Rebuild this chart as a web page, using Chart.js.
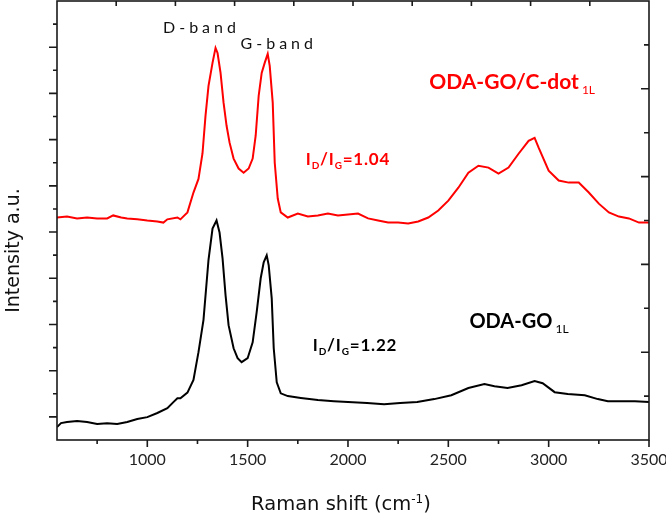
<!DOCTYPE html>
<html>
<head>
<meta charset="utf-8">
<script src="https://cdn.jsdelivr.net/npm/chart.js@4/dist/chart.umd.min.js"></script>
<style>
html, body { margin: 0; padding: 0; background: #fff; }
</style>
</head>
<body>
<canvas id="ramanChart" width="666" height="520"></canvas>
<script>
// Raman shift (cm-1) and intensity (a.u.)
const dotShift = [550, 600, 650, 700, 750, 800, 830, 870, 900, 950, 1000, 1050, 1080, 1100, 1150, 1165, 1200, 1230,
  1255, 1275, 1290, 1305, 1325, 1340, 1350, 1365, 1380, 1395, 1410, 1430, 1455, 1480, 1505, 1525, 1540, 1555, 1570,
  1585, 1600, 1610, 1625, 1635, 1650, 1665, 1700, 1750, 1800, 1850, 1900, 1950, 2000, 2050, 2100, 2150,
  2200, 2250, 2300, 2350, 2400, 2450, 2500, 2550, 2600, 2650, 2700, 2750, 2800, 2850, 2900, 2930, 2950, 3000, 3050,
  3100, 3150, 3200, 3250, 3300, 3350, 3400, 3450, 3500];
const dotIntensity = [9.63, 9.67, 9.59, 9.63, 9.59, 9.59, 9.72, 9.63, 9.59, 9.55, 9.50, 9.46, 9.41, 9.55, 9.63, 9.55,
  9.85, 10.71, 11.3, 12.4, 14.03, 15.33, 16.32, 16.97, 16.75, 15.89, 14.60, 13.60, 12.87, 12.18, 11.75, 11.57, 11.75,
  12.18, 13.17, 14.90, 15.89, 16.32, 16.71, 16.19, 14.60, 12.00, 10.45, 9.85, 9.63, 9.80, 9.67,
  9.72, 9.80, 9.72, 9.76, 9.80, 9.59, 9.50, 9.41, 9.41, 9.37, 9.46, 9.63, 9.93, 10.36, 10.92, 11.57, 11.87, 11.79,
  11.53, 11.79, 12.39, 12.95, 13.08, 12.65, 11.66, 11.23, 11.14, 11.14, 10.71, 10.23, 9.85, 9.67, 9.59, 9.41, 9.41];

const goShift = [550, 570, 600, 650, 700, 750, 800, 850, 900, 950, 1000, 1050, 1100, 1130, 1150, 1165, 1200, 1230,
  1255, 1280, 1305, 1325, 1345, 1360, 1375, 1390, 1405, 1430, 1450, 1470, 1500, 1525, 1545, 1565, 1580, 1595, 1605,
  1620, 1630, 1645, 1665, 1700, 1765, 1850, 1930, 2000, 2095, 2180, 2260, 2345, 2430, 2515, 2600,
  2680, 2730, 2795, 2865, 2930, 2970, 3030, 3095, 3180, 3245, 3295, 3430, 3500];
const goIntensity = [0.56, 0.73, 0.78, 0.82, 0.78, 0.69, 0.73, 0.69, 0.78, 0.91, 0.99, 1.17, 1.38, 1.64, 1.81, 1.81,
  2.05, 2.6, 3.8, 5.2, 7.8, 9.15, 9.50, 8.98, 7.86, 6.26, 4.97, 3.97, 3.54, 3.37, 3.54, 4.23, 5.53, 7.00, 7.69, 7.99,
  7.56, 6.13, 3.97, 2.50, 2.02, 1.90, 1.82, 1.73, 1.68, 1.64, 1.60, 1.55, 1.60, 1.64, 1.77,
  1.94, 2.25, 2.42, 2.33, 2.25, 2.37, 2.55, 2.46, 2.07, 1.99, 1.94, 1.77, 1.68, 1.68, 1.64];

// axis ticks
const shiftTicks = [1000, 1500, 2000, 2500, 3000, 3500];
const shiftMinor = [750, 1250, 1750, 2250, 2750, 3250];
const intensityMajor = [1, 3, 5, 7, 9, 11, 13, 15, 17];
const intensityMinor = [2, 4, 6, 8, 10, 12, 14, 16, 18];
const topTicks = [1, 2, 3, 4, 5, 6, 7, 8, 9];
const rightLong = [2, 4, 6, 8];
const rightShort = [1, 3, 5, 7, 9];

const RED = "#ff0000";
const FONT = "Lato";
const TITLE_FONT = "'DejaVu Sans'";

// frame and tick marks on all four sides
const frameTicks = {
    id: "frameTicks",
    afterDatasetsDraw(chart){
        const {ctx, chartArea: a, scales} = chart;
        ctx.save();
        ctx.strokeStyle = "#1a1a1a";
        ctx.lineWidth = 1.6;
        ctx.strokeRect(a.left, a.top, a.right - a.left, a.bottom - a.top);
        ctx.beginPath();
        const vTick = (px, y0, len) => { ctx.moveTo(px, y0); ctx.lineTo(px, y0 + len); };
        const hTick = (py, x0, len) => { ctx.moveTo(x0, py); ctx.lineTo(x0 + len, py); };
        shiftTicks.forEach(v => vTick(scales.x.getPixelForValue(v), a.bottom, 7));
        shiftMinor.forEach(v => vTick(scales.x.getPixelForValue(v), a.bottom, 4));
        intensityMajor.forEach(v => hTick(scales.y.getPixelForValue(v), a.left, -8));
        intensityMinor.forEach(v => hTick(scales.y.getPixelForValue(v), a.left, -4));
        topTicks.forEach(v => vTick(scales.xTop.getPixelForValue(v), a.top, 5));
        rightLong.forEach(v => hTick(scales.yRight.getPixelForValue(v), a.right, -8));
        rightShort.forEach(v => hTick(scales.yRight.getPixelForValue(v), a.right, -5));
        ctx.stroke();
        ctx.restore();
    }
};

// text runs: [text, font, baseline shift]
function drawRuns(ctx, x, y, runs, color, spacing, center){
    ctx.save();
    ctx.fillStyle = color;
    ctx.textBaseline = "alphabetic";
    ctx.letterSpacing = spacing + "px";
    let total = 0;
    runs.forEach(r => { ctx.font = r[1]; total += ctx.measureText(r[0]).width; });
    let cx = center ? x - total / 2 : x;
    runs.forEach(r => {
        ctx.font = r[1];
        ctx.fillText(r[0], cx, y + r[2]);
        cx += ctx.measureText(r[0]).width;
    });
    ctx.restore();
}

const notes = {
    id: "notes",
    afterDatasetsDraw(chart){
        const {ctx, scales: {x, y}} = chart;
        const px = v => x.getPixelForValue(v);
        const py = v => y.getPixelForValue(v);
        drawRuns(ctx, px(1270), py(17.62), [["D-band", "16px " + FONT, 0]], "#111", 4, true);
        drawRuns(ctx, px(1655), py(16.93), [["G-band", "16px " + FONT, 0]], "#111", 4, true);
        drawRuns(ctx, px(2405), py(15.2), [["ODA-GO/C-dot", "bold 21px " + FONT, 0], [" 1L", "12px " + FONT, 5]], RED, 0, false);
        drawRuns(ctx, px(1790), py(11.9), [["I", "bold 17px " + FONT, 0], ["D", "bold 10px " + FONT, 4],
            ["/", "bold 17px " + FONT, 0], ["I", "bold 17px " + FONT, 0], ["G", "bold 10px " + FONT, 4],
            ["=1.04", "bold 17px " + FONT, 0]], RED, 0.8, false);
        drawRuns(ctx, px(2605), py(4.84), [["ODA-GO", "bold 20px " + FONT, 0], [" 1L", "12px " + FONT, 5]], "#000", 0, false);
        drawRuns(ctx, px(1825), py(3.85), [["I", "bold 17px " + FONT, 0], ["D", "bold 10px " + FONT, 4],
            ["/", "bold 17px " + FONT, 0], ["I", "bold 17px " + FONT, 0], ["G", "bold 10px " + FONT, 4],
            ["=1.22", "bold 17px " + FONT, 0]], "#000", 0.8, false);
        // axis titles
        drawRuns(ctx, px(1965), 510, [["Raman shift (cm", "19.5px " + TITLE_FONT, 0], ["-1", "12px " + TITLE_FONT, -7],
            [")", "19.5px " + TITLE_FONT, 0]], "#111", 0, true);
        ctx.save();
        ctx.translate(19, py(8.2));
        ctx.rotate(-Math.PI / 2);
        drawRuns(ctx, 0, 0, [["Intensity a.u.", "19px " + TITLE_FONT, 0]], "#111", 0, true);
        ctx.restore();
    }
};

const ctx = document.getElementById("ramanChart").getContext("2d");
const chart = new Chart(ctx, {
    type: "line",
    data: {
        datasets: [
            {
                label: "ODA-GO 1L",
                data: goShift.map((s, i) => ({x: s, y: goIntensity[i]})),
                borderColor: "#000",
                borderWidth: 2,
                pointRadius: 0,
                tension: 0,
                xAxisID: "x",
                yAxisID: "y"
            },
            {
                label: "ODA-GO/C-dot 1L",
                data: dotShift.map((s, i) => ({x: s, y: dotIntensity[i]})),
                borderColor: RED,
                borderWidth: 2,
                pointRadius: 0,
                tension: 0,
                xAxisID: "x",
                yAxisID: "y"
            }
        ]
    },
    options: {
        responsive: false,
        animation: false,
        devicePixelRatio: 1,
        layout: {padding: {top: 1, right: 17, left: 0, bottom: 0}},
        plugins: {
            legend: {display: false},
            tooltip: {enabled: false}
        },
        scales: {
            x: {
                type: "linear",
                position: "bottom",
                min: 550,
                max: 3500,
                afterBuildTicks: s => { s.ticks = shiftTicks.map(v => ({value: v})); },
                afterFit: s => { s.height = 80; s.paddingLeft = 0; s.paddingRight = 0; },
                grid: {display: false, drawTicks: false},
                border: {display: false},
                ticks: {
                    color: "#222",
                    padding: 10,
                    maxRotation: 0,
                    autoSkip: false,
                    callback: v => String(v),
                    font: {family: FONT, size: 16}
                }
            },
            y: {
                type: "linear",
                position: "left",
                min: 0,
                max: 19,
                afterFit: s => { s.width = 57; },
                grid: {display: false, drawTicks: false},
                border: {display: false},
                ticks: {display: false}
            },
            xTop: {type: "linear", position: "top", min: 0, max: 10, display: false},
            yRight: {type: "linear", position: "right", min: 0, max: 10, display: false}
        }
    },
    plugins: [frameTicks, notes]
});
</script>
</body>
</html>
